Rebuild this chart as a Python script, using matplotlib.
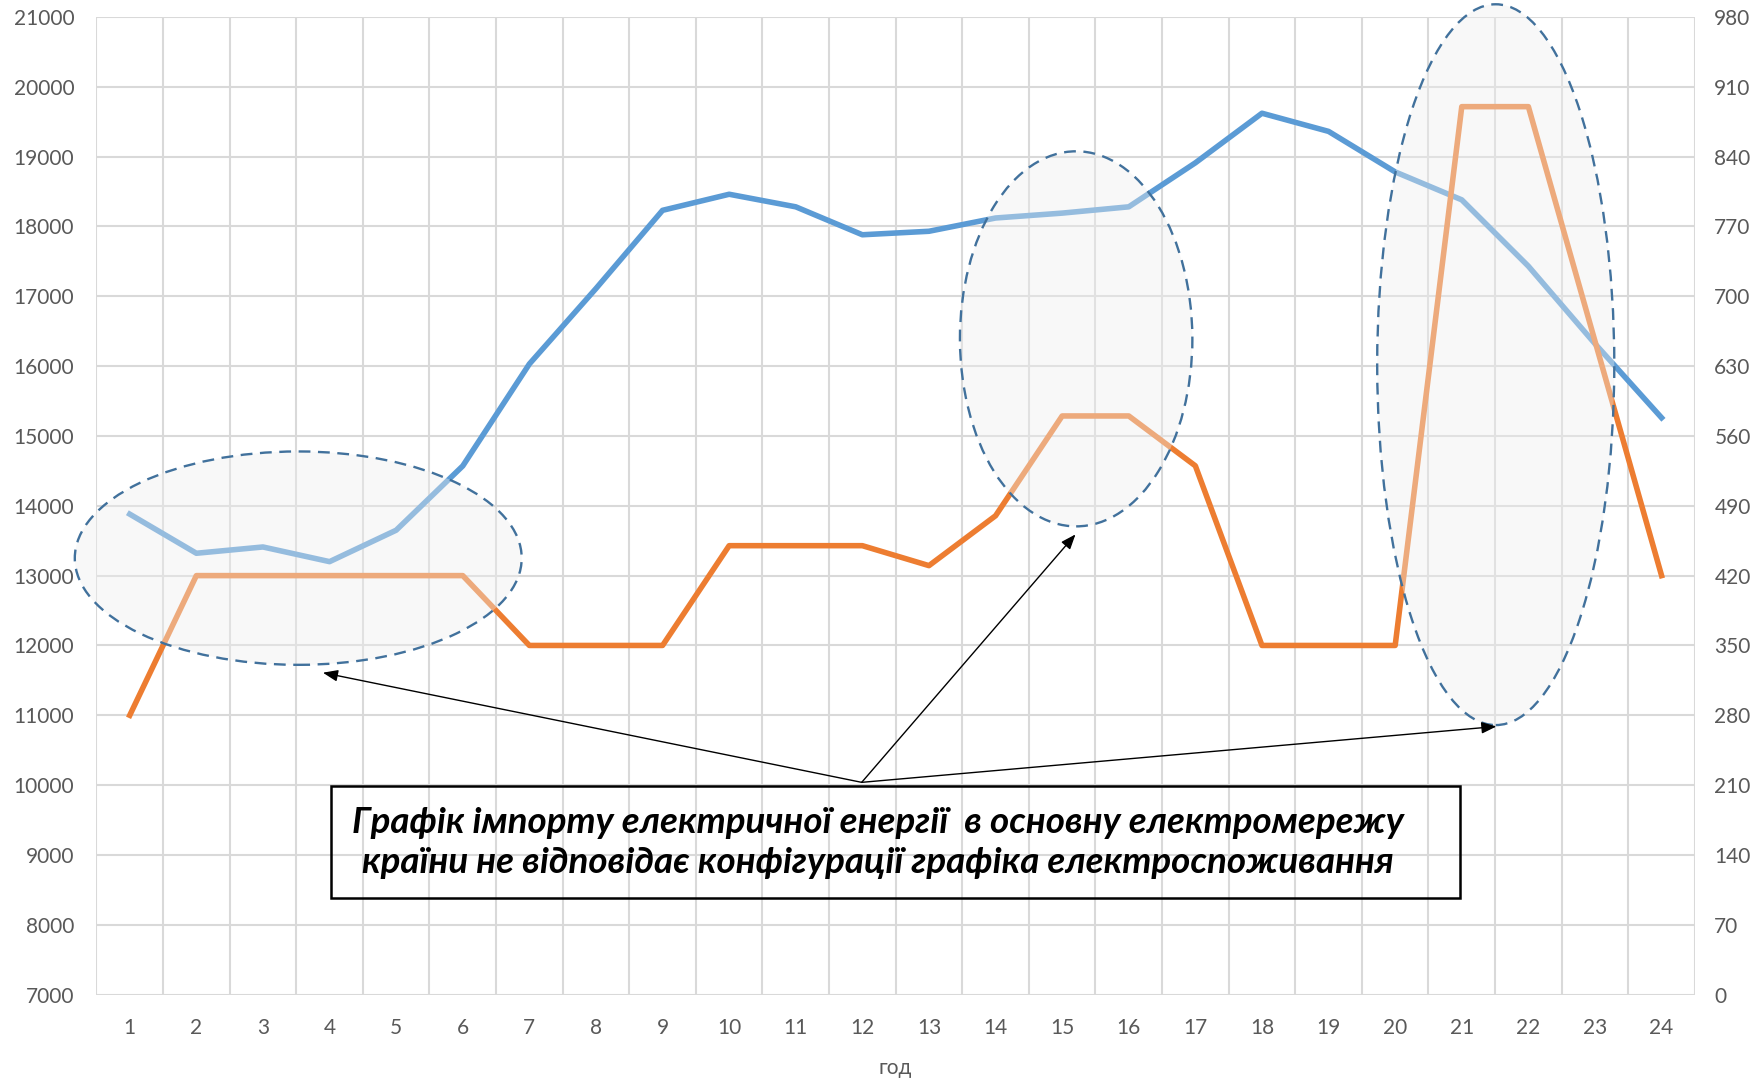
import matplotlib
matplotlib.use("Agg")
import matplotlib.pyplot as plt
from matplotlib.patches import Ellipse, Rectangle

# Hourly data
hours = list(range(1, 25))
consumption = [13880, 13320, 13410, 13200, 13650, 14570, 16030, 17110, 18230, 18460,
               18280, 17880, 17930, 18120, 18190, 18280, 18910, 19620, 19360, 18780,
               18380, 17430, 16320, 15260]
imports = [280, 420, 420, 420, 420, 420, 350, 350, 350, 450,
           450, 450, 430, 480, 580, 580, 530, 350, 350, 350,
           890, 890, 655, 420]

left_ticks = list(range(7000, 21001, 1000))
right_ticks = list(range(0, 981, 70))
xlabel = "год"
note = ("Графік імпорту електричної енергії  в основну електромережу\n"
        "країни не відповідає конфігурації графіка електроспоживання")

BLUE = "#5B9BD5"
ORANGE = "#ED7D31"
GRID = "#D9D9D9"
TICK = "#595959"

fig = plt.figure(figsize=(17.6, 10.8), dpi=100)
ax = fig.add_axes([0.0548, 0.079, 0.9082, 0.9054])
ax2 = ax.twinx()

ax.set_xlim(0.5, 24.5)
ax.set_ylim(7000, 21000)
ax2.set_ylim(0, 980)

ax.plot(hours, consumption, color=BLUE, lw=4.0, solid_joinstyle="round", zorder=3)
ax2.plot(hours, imports, color=ORANGE, lw=4.0, solid_joinstyle="round", zorder=3)

# grid: horizontal at each tick, vertical between hours
ax.set_yticks(left_ticks)
ax2.set_yticks(right_ticks)
ax.set_xticks(hours)
ax.set_xticks([h + 0.5 for h in range(0, 25)], minor=True)
ax.grid(True, which="major", axis="y", color=GRID, lw=1.5, zorder=0)
ax.grid(True, which="minor", axis="x", color=GRID, lw=1.5, zorder=0)
ax.tick_params(which="both", length=0)
ax.tick_params(axis="x", pad=17)
for s in ax.spines.values():
    s.set_visible(False)
for s in ax2.spines.values():
    s.set_visible(False)
ax2.tick_params(length=0, pad=14)
ax.tick_params(axis="y", pad=16)

for lab in ax.get_xticklabels() + ax.get_yticklabels() + ax2.get_yticklabels():
    lab.set_fontfamily("Lato")
    lab.set_fontsize(15)
    lab.set_color(TICK)

ax.set_xlabel(xlabel, fontfamily="Lato", fontsize=15, color=TICK, labelpad=14)

# highlighted regions
regions = [(3.53, 13250, 6.71, 3055), (15.21, 16390, 3.49, 5370), (21.51, 16020, 3.56, 10320)]
for cx, cy, w, h in regions:
    e = Ellipse((cx, cy), w, h, transform=ax.transData, facecolor="#EEEEEE",
                alpha=0.4, edgecolor="none", zorder=5, clip_on=False)
    ax2.add_patch(e)
    e2 = Ellipse((cx, cy), w, h, transform=ax.transData, facecolor="none",
                 edgecolor="#41719C", lw=1.7, linestyle=(0, (5, 3.2)), zorder=6,
                 clip_on=False)
    ax2.add_patch(e2)

# arrows from the note to each region
src = (11.99, 10040)
targets = [(3.90, 11610), (15.20, 13590), (21.52, 10840)]
for t in targets:
    ax2.annotate("", xy=t, xycoords=ax.transData, xytext=src, textcoords=ax.transData,
                 arrowprops=dict(arrowstyle="-|>,head_length=0.9,head_width=0.35",
                                 color="black", lw=1.0, shrinkA=0, shrinkB=0),
                 zorder=7)

# note box
box = Rectangle((4.02, 8380), 16.95, 1610, transform=ax.transData, facecolor="none",
                edgecolor="black", lw=1.8, zorder=7)
ax2.add_patch(box)
ax2.text(12.24, 9175, note, transform=ax.transData, ha="center", va="center",
         fontfamily="Lato", fontweight="bold", fontstyle="italic", fontsize=26.5,
         linespacing=1.25, color="black", zorder=8)

fig.savefig("out.png", dpi=100, facecolor="white")
